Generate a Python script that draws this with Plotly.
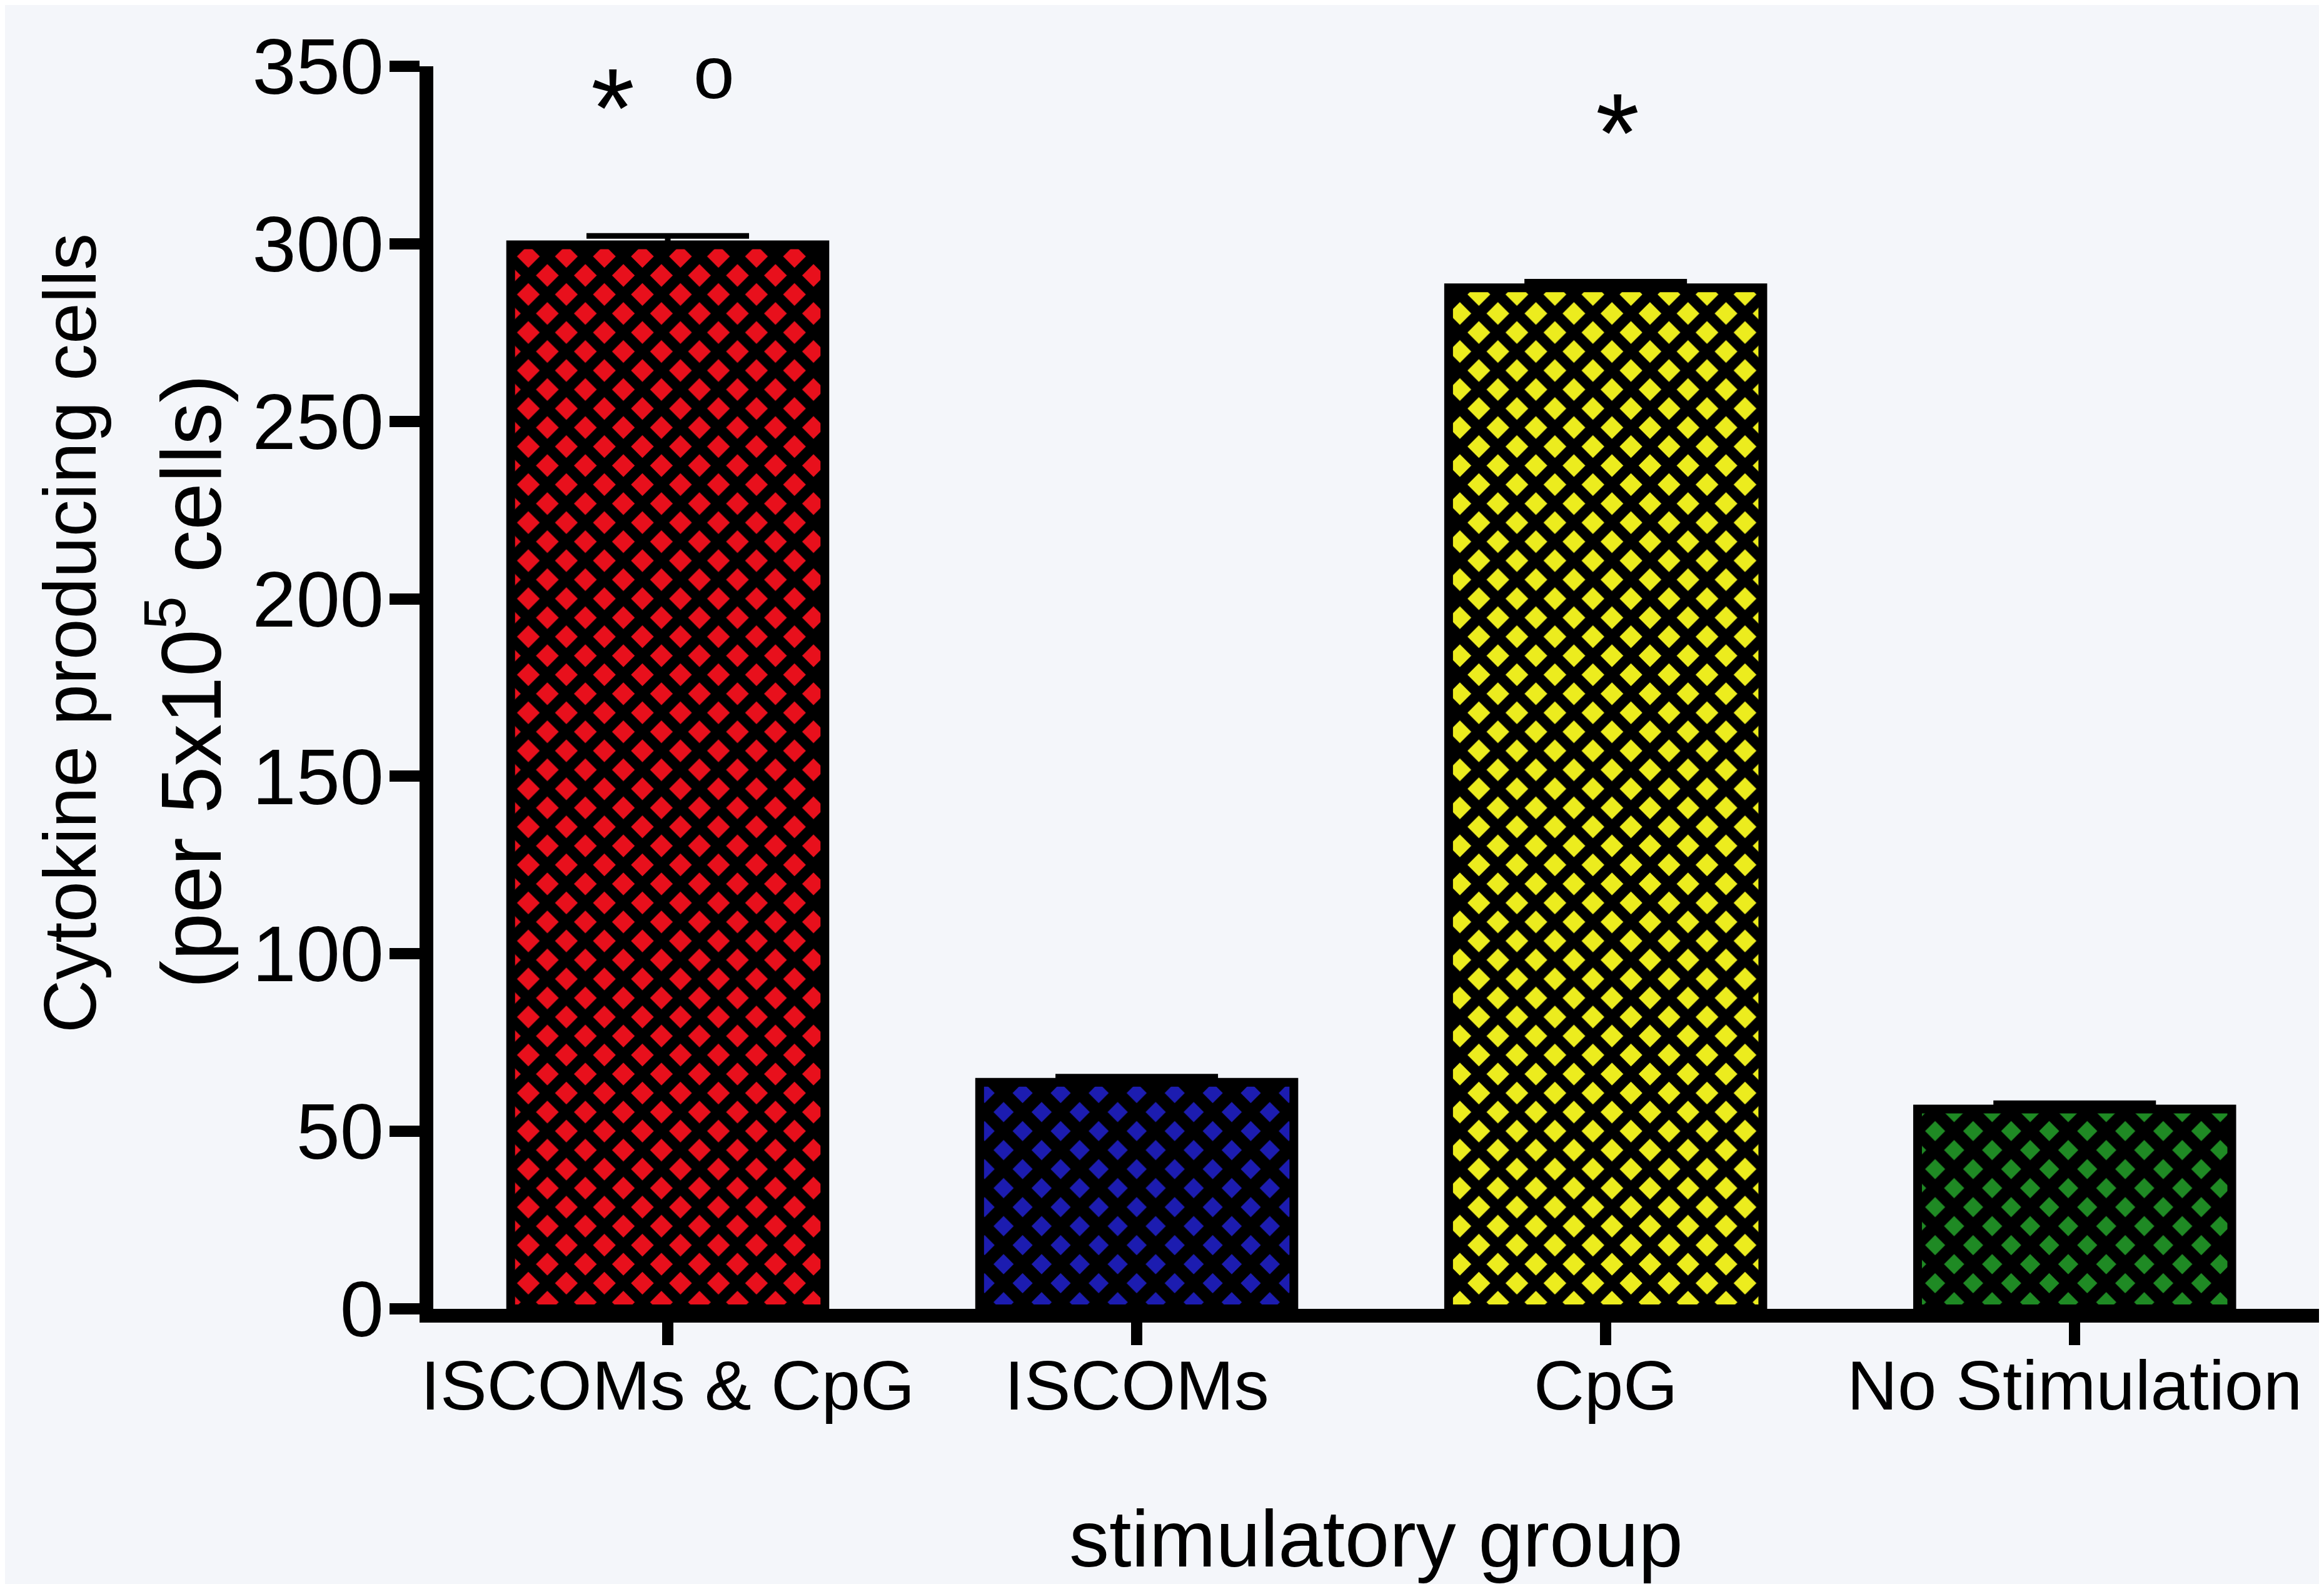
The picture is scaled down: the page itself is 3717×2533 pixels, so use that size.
import plotly.graph_objects as go

categories = ["ISCOMs & CpG", "ISCOMs", "CpG", "No Stimulation"]
values = [299.7, 63.8, 287.6, 56.3]
errors = [2.5, 1.6, 1.7, 1.6]
colors = ["#e8101c", "#1c1cb0", "#ecec1e", "#1f8a24"]
y_ticks = [0, 50, 100, 150, 200, 250, 300, 350]

W, H = 3717, 2533
ML, MR, MT, MB = 685, 7, 98, 448
PW = W - ML - MR
PH = H - MT - MB
BG = "#f4f6fa"
FONT = "Liberation Sans, Arial, sans-serif"

fig = go.Figure()
fig.add_trace(go.Bar(
    x=list(range(len(categories))),
    y=values,
    width=0.67,
    marker=dict(
        line=dict(color="black", width=14),
        pattern=dict(shape="x", fgcolor="black", bgcolor=colors,
                     fillmode="replace", fgopacity=1, size=43,
                     solidity=[0.64, 0.72, 0.64, 0.72]),
    ),
    error_y=dict(type="data", symmetric=False, array=errors,
                 arrayminus=[0] * len(errors), visible=True, color="black",
                 thickness=9, width=130),
    showlegend=False,
))

def px_to_paper_x(px):
    return (px - ML) / PW

def px_to_paper_y(py):
    return (H - MB - py) / PH

annotations = [
    dict(text="Cytokine producing cells", x=px_to_paper_x(104), y=px_to_paper_y(1005),
         xref="paper", yref="paper", textangle=-90, showarrow=False,
         xanchor="center", yanchor="middle", font=dict(size=118, color="black", family=FONT)),
    dict(text="(per 5x10<sup>5</sup> cells)", x=px_to_paper_x(288), y=px_to_paper_y(1082),
         xref="paper", yref="paper", textangle=-90, showarrow=False,
         xanchor="center", yanchor="middle", font=dict(size=136, color="black", family=FONT)),
    dict(text="stimulatory group", x=px_to_paper_x(2193), y=px_to_paper_y(2452),
         xref="paper", yref="paper", showarrow=False,
         xanchor="center", yanchor="middle", font=dict(size=128, color="black", family=FONT)),
    # significance markers
    dict(text="*", x=-0.118, y=values[0] + errors[0] + 36,
         xref="x", yref="y", showarrow=False, xanchor="center", yanchor="middle",
         font=dict(size=180, color="black", family=FONT)),
    dict(text="o", x=0.098, y=values[0] + errors[0] + 46,
         xref="x", yref="y", showarrow=False, xanchor="center", yanchor="middle",
         font=dict(size=118, color="black", family=FONT)),
    dict(text="*", x=2.025, y=values[2] + errors[2] + 42,
         xref="x", yref="y", showarrow=False, xanchor="center", yanchor="middle",
         font=dict(size=180, color="black", family=FONT)),
]

fig.update_layout(
    width=W, height=H,
    margin=dict(l=ML, r=MR, t=MT, b=MB, pad=0, autoexpand=False),
    paper_bgcolor=BG, plot_bgcolor=BG,
    font=dict(family=FONT, color="black"),
    annotations=annotations,
    xaxis=dict(
        range=[-0.5, 3.533],
        tickmode="array", tickvals=list(range(len(categories))), ticktext=categories,
        showline=True, linecolor="black", linewidth=22,
        ticks="outside", ticklen=36, tickwidth=18, tickcolor="black",
        ticklabelstandoff=-31,
        tickfont=dict(size=112, color="black", family=FONT),
        showgrid=False, zeroline=False,
    ),
    yaxis=dict(
        range=[0, 350],
        tickmode="array", tickvals=y_ticks, ticktext=[str(t) for t in y_ticks],
        showline=True, linecolor="black", linewidth=22,
        ticks="outside", ticklen=48, tickwidth=18, tickcolor="black",
        ticklabelstandoff=-16,
        tickfont=dict(size=126, color="black", family=FONT),
        showgrid=False, zeroline=False,
    ),
)

fig.write_html("out.html")
